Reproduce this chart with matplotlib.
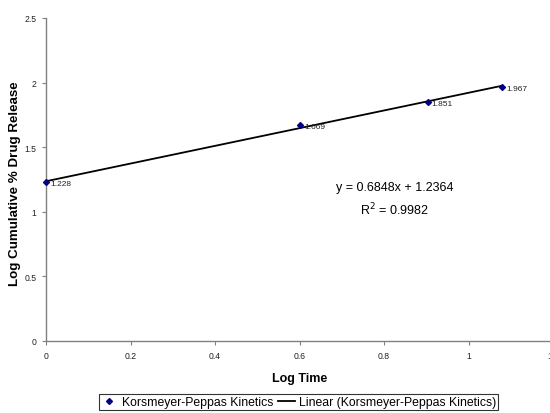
import matplotlib.pyplot as plt
from matplotlib import rcParams

rcParams.update({
    "font.family": ["Liberation Sans", "DejaVu Sans"],
    "axes.linewidth": 1.0,
})

log_time = [0.0, 0.602, 0.903, 1.079]
log_release = [1.228, 1.669, 1.851, 1.967]
point_labels = ["1.228", "1.669", "1.851", "1.967"]
slope, intercept = 0.6848, 1.2364
r_squared = 0.9982
xticks = [0, 0.2, 0.4, 0.6, 0.8, 1.0, 1.2]
xtick_labels = ["0", "0.2", "0.4", "0.6", "0.8", "1", "1.2"]
yticks = [0, 0.5, 1.0, 1.5, 2.0, 2.5]
ytick_labels = ["0", "0.5", "1", "1.5", "2", "2.5"]

fig = plt.figure(figsize=(5.5, 4.14), dpi=100, facecolor="white")
# plot area runs past the right edge, as in the source image
ax = fig.add_axes([46 / 550, 1 - 342 / 414, 507 / 550, 323 / 414])
ax.set_xlim(0, 1.2)
ax.set_ylim(0, 2.5)
for s in ("top", "right"):
    ax.spines[s].set_visible(False)
for s in ("left", "bottom"):
    ax.spines[s].set_color("#808080")

ax.set_xticks(xticks)
ax.set_xticklabels(xtick_labels)
ax.set_yticks(yticks)
ax.set_yticklabels(ytick_labels)
ax.tick_params(direction="out", length=3, width=0.8, color="#808080",
               labelsize=6.2, pad=4, labelcolor="#222222")

fit_x = [log_time[0], log_time[-1]]
fit_y = [slope * v + intercept for v in fit_x]
ax.plot(fit_x, fit_y, color="black", lw=1.3,
        label="Linear (Korsmeyer-Peppas Kinetics)")
ax.plot(log_time, log_release, linestyle="none", marker="D", ms=3,
        color="#000080", label="Korsmeyer-Peppas Kinetics", clip_on=False, zorder=3)

for x, y, lab in zip(log_time, log_release, point_labels):
    ax.annotate(lab, (x, y), xytext=(3, -1), textcoords="offset points",
                fontsize=6, va="center", ha="left", color="#222222")

ax.text(0.826, 1.19, f"y = {slope}x + {intercept}", fontsize=9,
        ha="center", va="center")
ax.text(0.826, 1.02, f"R$^2$ = {r_squared}", fontsize=9,
        ha="center", va="center")

ax.set_xlabel("Log Time", fontsize=9, fontweight="bold", labelpad=9)
ax.set_ylabel("Log Cumulative % Drug Release", fontsize=9.6, fontweight="bold")
ax.yaxis.set_label_coords((21 - 46) / 507, 0.49)

h, l = ax.get_legend_handles_labels()
leg = fig.legend(h[::-1], l[::-1], loc="upper left",
                 bbox_to_anchor=(99 / 550, 1 - 395 / 414), ncol=2, fontsize=8.8,
                 frameon=True, fancybox=False, edgecolor="black",
                 handlelength=1.4, handletextpad=0.3, columnspacing=0.4,
                 borderpad=0.15, borderaxespad=0)
leg.get_frame().set_linewidth(0.8)

fig.savefig("out.png", dpi=100)
